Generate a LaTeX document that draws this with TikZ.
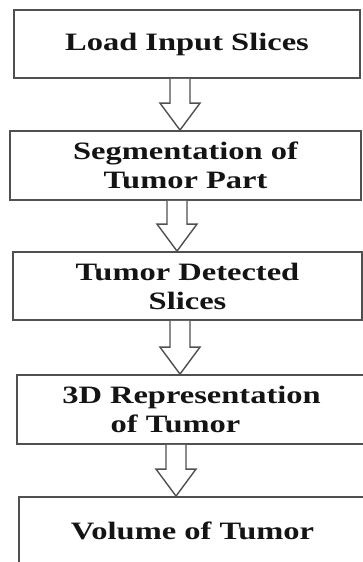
\documentclass[tikz,border=0pt]{standalone}
\usepackage{fontspec}
\setmainfont{Liberation Serif}[FakeStretch=1.3]
\usetikzlibrary{calc}
\definecolor{boxgray}{HTML}{505050}
\definecolor{txt}{HTML}{141414}
\tikzset{
  box/.style={draw=boxgray, line width=1.8pt, rectangle, inner sep=0pt,
    align=center, text=txt, font=\fontsize{25}{29}\selectfont\bfseries},
  arrowline/.style={draw=boxgray, line width=1.4pt, fill=white, line join=miter},
}
\newcommand\hollowarrow[3]{%
  \draw[arrowline] let \p1=(#1.south), \p2=(#2.north) in
    ({#3pt-10pt},\y1) -- ({#3pt-10pt},{\y2+27pt}) -- ({#3pt-20pt},{\y2+27pt})
    -- ({#3pt},\y2) -- ({#3pt+20pt},{\y2+27pt}) -- ({#3pt+10pt},{\y2+27pt})
    -- ({#3pt+10pt},\y1);}
\begin{document}
\begin{tikzpicture}[x=1pt,y=1pt]
\useasboundingbox (0,0) rectangle (363,562);
\clip (0,0) rectangle (363,562);
\node[box, minimum width=346pt, minimum height=68pt] (b1) at (187,518) {Load Input Slices};
\node[box, minimum width=351pt, minimum height=69pt] (b2) at (185.5,396.5) {Segmentation of\\Tumor Part};
\node[box, minimum width=349pt, minimum height=68pt] (b3) at (187.5,276) {Tumor Detected\\Slices};
\node[box, minimum width=349pt, minimum height=69pt] (b4) at (191.5,152.5) {3D Representation\\of Tumor\hspace*{32pt}};
\node[box, minimum width=347pt, minimum height=68pt] (b5) at (192.5,31) {Volume of Tumor};
\hollowarrow{b1}{b2}{180}
\hollowarrow{b2}{b3}{177}
\hollowarrow{b3}{b4}{180}
\hollowarrow{b4}{b5}{176}
\end{tikzpicture}
\end{document}
